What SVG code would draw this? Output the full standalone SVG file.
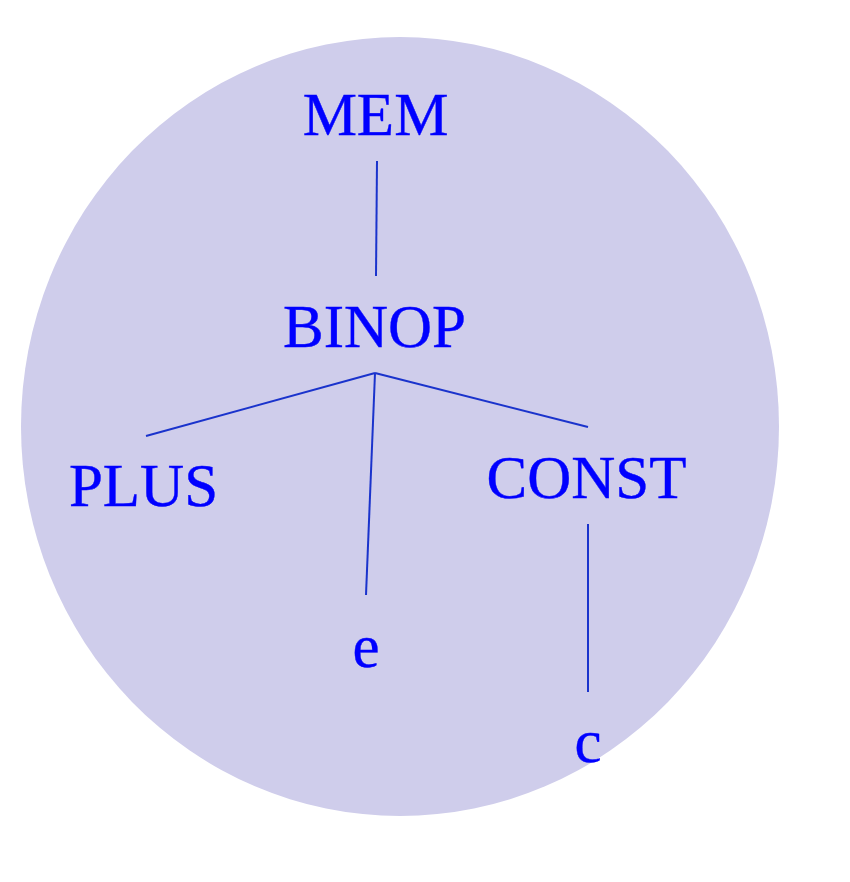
<svg xmlns="http://www.w3.org/2000/svg" width="850" height="882" viewBox="0 0 850 882">
<style>
.lbl{font-family:"Liberation Serif","Times New Roman",serif;font-size:61px;fill:#0000ff;stroke:#0000ff;stroke-width:0.4;text-anchor:middle}
.edge{stroke:#1a33cc;stroke-width:2;fill:none}
</style>
<rect width="850" height="882" fill="#ffffff"/>
<ellipse cx="400" cy="426.5" rx="379" ry="389.5" fill="#cfcdeb"/>
<g id="connectors">
<line class="edge" x1="377" y1="161" x2="376" y2="276"/>
<line class="edge" x1="375" y1="373" x2="146" y2="436"/>
<line class="edge" x1="375" y1="373" x2="366" y2="595"/>
<line class="edge" x1="375" y1="373" x2="588" y2="427"/>
<line class="edge" x1="588" y1="524" x2="588" y2="692"/>
</g>
<g id="mem"><text class="lbl" x="375.5" y="135">MEM</text></g>
<g id="binop"><text class="lbl" x="374.5" y="347">BINOP</text></g>
<g id="plus"><text class="lbl" x="143.5" y="506">PLUS</text></g>
<g id="const"><text class="lbl" x="586.5" y="498">CONST</text></g>
<g id="e"><text class="lbl" x="366" y="667">e</text></g>
<g id="c"><text class="lbl" x="588" y="762">c</text></g>
</svg>
